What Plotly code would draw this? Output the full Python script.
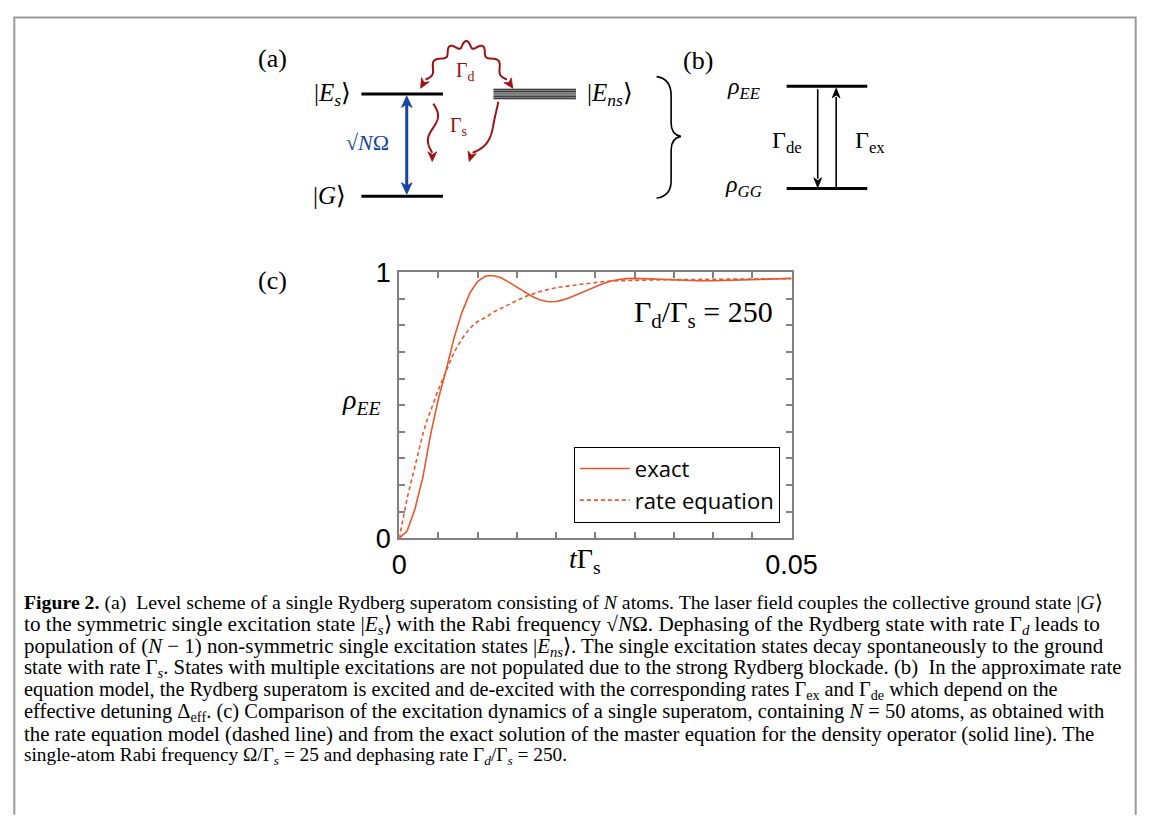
import numpy as np
import plotly.graph_objects as go

W, H = 1168, 821

# ---------------- data ----------------
t_exact = [0, 0.001, 0.002, 0.003, 0.004, 0.005, 0.006, 0.007, 0.008, 0.009,
           0.010, 0.011, 0.012, 0.013, 0.014, 0.015, 0.016, 0.017, 0.018, 0.019,
           0.020, 0.021, 0.022, 0.023, 0.024, 0.025, 0.026, 0.027, 0.028, 0.029,
           0.030, 0.032, 0.034, 0.036, 0.038, 0.040, 0.042, 0.044, 0.046, 0.048, 0.050]
rho_exact = [0, 0.027, 0.110, 0.228, 0.390, 0.525, 0.635, 0.755, 0.850, 0.922,
             0.966, 0.986, 0.988, 0.979, 0.962, 0.945, 0.925, 0.908, 0.896, 0.889,
             0.890, 0.897, 0.908, 0.921, 0.934, 0.947, 0.958, 0.967, 0.973, 0.976,
             0.977, 0.975, 0.972, 0.969, 0.968, 0.968, 0.969, 0.971, 0.973, 0.975, 0.977]

t_rate = [0, 0.0005, 0.001, 0.0015, 0.002, 0.0025, 0.003, 0.0035, 0.004, 0.005,
          0.006, 0.007, 0.008, 0.009, 0.010, 0.011, 0.012, 0.013, 0.014, 0.015,
          0.016, 0.018, 0.020, 0.022, 0.024, 0.026, 0.028, 0.030, 0.034, 0.038,
          0.042, 0.046, 0.050]
rho_rate = [0, 0.080, 0.150, 0.210, 0.270, 0.340, 0.390, 0.440, 0.480, 0.560,
            0.630, 0.700, 0.750, 0.790, 0.815, 0.830, 0.850, 0.865, 0.877, 0.895,
            0.908, 0.928, 0.942, 0.950, 0.958, 0.965, 0.968, 0.970, 0.972, 0.973,
            0.974, 0.975, 0.976]

series_names = ["exact", "rate equation"]

x_tick_vals = [0, 0.05]
x_tick_text = ["0", "0.05"]
x_minor_ticks = [0.005, 0.010, 0.015, 0.020, 0.025, 0.030, 0.035, 0.040, 0.045]
y_tick_vals = [0, 1]
y_tick_text = ["0", "1"]
y_minor_ticks = [0.1, 0.2, 0.3, 0.4, 0.5, 0.6, 0.7, 0.8, 0.9]

caption_lines = [
    "<b>Figure 2.</b> (a)\u00a0 Level scheme of a single Rydberg superatom consisting of <i>N</i> atoms. The laser field couples the collective ground state |<i>G</i>⟩",
    "to the symmetric single excitation state |<i>E<sub>s</sub></i>⟩ with the Rabi frequency √<i>N</i>Ω. Dephasing of the Rydberg state with rate Γ<sub><i>d</i></sub> leads to",
    "population of (<i>N</i> − 1) non-symmetric single excitation states |<i>E<sub>ns</sub></i>⟩. The single excitation states decay spontaneously to the ground",
    "state with rate Γ<sub><i>s</i></sub>. States with multiple excitations are not populated due to the strong Rydberg blockade. (b)\u00a0 In the approximate rate",
    "equation model, the Rydberg superatom is excited and de-excited with the corresponding rates Γ<sub>ex</sub> and Γ<sub>de</sub> which depend on the",
    "effective detuning Δ<sub>eff</sub>. (c) Comparison of the excitation dynamics of a single superatom, containing <i>N</i> = 50 atoms, as obtained with",
    "the rate equation model (dashed line) and from the exact solution of the master equation for the density operator (solid line). The",
    "single-atom Rabi frequency Ω/Γ<sub><i>s</i></sub> = 25 and dephasing rate Γ<sub><i>d</i></sub>/Γ<sub><i>s</i></sub> = 250.",
]

# ---------------- styling / layout helpers ----------------
LINE_COL = "#E8582B"
RED = "#9E1010"
BLUE = "#1545A0"
AXIS_COL = "#808080"
SERIF = "Liberation Serif"
SANS = "Liberation Sans"
CAP_Y = [610, 633, 655.5, 678, 701, 723.5, 746, 769]
CAP_SIZE = [19.8, 21.2, 20.9, 20.75, 20.3, 20.5, 20.8, 19.3]


def px(x):
    return x / W


def py(y):
    return 1 - y / H


def P(x, y):
    return f"{px(x):.5f},{py(y):.5f}"


def wavy_pts(p0, c, p1, amp, waves, n=160):
    s = np.linspace(0, 1, n)
    p0, c, p1 = map(np.array, (p0, c, p1))
    pts = ((1 - s) ** 2)[:, None] * p0 + (2 * (1 - s) * s)[:, None] * c + (s ** 2)[:, None] * p1
    d = (2 * (1 - s))[:, None] * (c - p0) + (2 * s)[:, None] * (p1 - c)
    d = d / np.linalg.norm(d, axis=1)[:, None]
    nrm = np.stack([-d[:, 1], d[:, 0]], axis=1)
    off = amp * np.sin(2 * np.pi * waves * s)
    return pts + nrm * off[:, None]


shapes = []
ann = []


def path_shape(pts, color, width):
    shapes.append(dict(type="path", xref="paper", yref="paper",
                       path="M " + " L ".join(P(x, y) for x, y in pts),
                       line=dict(color=color, width=width)))


def head(tip, direction, color, length=10, half=4.5, notch=3):
    u = np.array(direction, float)
    u = u / np.linalg.norm(u)
    n = np.array([-u[1], u[0]])
    t = np.array(tip, float)
    a = t - length * u + half * n
    b = t - (length - notch) * u
    c = t - length * u - half * n
    shapes.append(dict(type="path", xref="paper", yref="paper",
                       path=f"M {P(*t)} L {P(*a)} L {P(*b)} L {P(*c)} Z",
                       fillcolor=color, line=dict(color=color, width=0.8)))


def seg(x0, y0, x1, y1, width=3, color="black"):
    shapes.append(dict(type="line", xref="paper", yref="paper", x0=px(x0), x1=px(x1),
                       y0=py(y0), y1=py(y1), line=dict(color=color, width=width)))


def text(x, y, s, size, color="black", family=SERIF, xanchor="center"):
    ann.append(dict(x=px(x), y=py(y), xref="paper", yref="paper", text=s, showarrow=False,
                    xanchor=xanchor, yanchor="middle",
                    font=dict(family=family, size=size, color=color)))


fig = go.Figure()
fig.add_trace(go.Scatter(x=t_exact, y=rho_exact, mode="lines", name=series_names[0],
                         line=dict(color=LINE_COL, width=1.6)))
fig.add_trace(go.Scatter(x=t_rate, y=rho_rate, mode="lines", name=series_names[1],
                         line=dict(color=LINE_COL, width=1.6, dash="4px,3px")))

axis_common = dict(showgrid=False, zeroline=False, showline=True, linecolor=AXIS_COL,
                   linewidth=2, ticks="inside", ticklen=6, tickwidth=1.5,
                   tickcolor=AXIS_COL, mirror="ticks",
                   tickfont=dict(family=SANS, size=27, color="black"))

fig.update_layout(
    width=W, height=H,
    margin=dict(l=0, r=0, t=0, b=0),
    paper_bgcolor="white", plot_bgcolor="white",
    xaxis=dict(domain=[px(403), px(807)], range=[0, 0.05], tickmode="array",
               tickvals=x_tick_vals, ticktext=x_tick_text, ticklabelstandoff=1,
               minor=dict(tickvals=x_minor_ticks, ticks="inside", ticklen=6,
                          tickwidth=1.5, tickcolor=AXIS_COL),
               **axis_common),
    yaxis=dict(domain=[py(543), py(267)], range=[0, 1], tickmode="array",
               tickvals=y_tick_vals, ticktext=y_tick_text, ticklabelstandoff=1,
               minor=dict(tickvals=y_minor_ticks, ticks="inside", ticklen=6,
                          tickwidth=1.5, tickcolor=AXIS_COL),
               **axis_common),
    legend=dict(x=px(795), y=py(527), xanchor="right", yanchor="bottom",
                bordercolor="black", borderwidth=1, bgcolor="white",
                font=dict(family="Open Sans", size=22, color="black"),
                itemwidth=50, tracegroupgap=0),
    showlegend=True,
)

# outer frame
shapes.append(dict(type="path", xref="paper", yref="paper",
                   path=f"M {P(6.5, 830)} L {P(6.5, 2.5)} L {P(1161.5, 2.5)} L {P(1161.5, 830)}",
                   line=dict(color="#9a9a9a", width=2)))

# ---- panel (a) ----
text(272, 45, "(a)", 26)
seg(364, 82, 448, 82)
seg(364, 188, 448, 188)
for yy in [77, 79, 81, 83, 85, 87]:
    seg(500, yy, 585, yy, width=1.1)
text(334, 83, "|<i>E<sub>s</sub></i>⟩", 25)
text(331, 187, "|<i>G</i>⟩", 25)
text(620, 83, "|<i>E<sub>ns</sub></i>⟩", 25)
# collective Rabi coupling (double arrow)
seg(410.7, 92, 410.7, 178, width=3, color=BLUE)
head((410.7, 84), (0, -1), BLUE, length=12, half=5.5, notch=3.5)
head((410.7, 186), (0, 1), BLUE, length=12, half=5.5, notch=3.5)
text(370, 132, "√<i>N</i>Ω", 22, color=BLUE)
# dephasing wavy arrow
path_shape(wavy_pts((430, 67), (472, -6), (514, 67), 3.5, 5.5), RED, 2)
head((425, 76), (-5, 9), RED)
head((520, 76), (6, 9), RED)
text(471, 59, "Γ<sub>d</sub>", 20, color=RED)
# spontaneous decay wavy arrows
path_shape(wavy_pts((438, 92), (438, 117), (437, 143), -5, 1.0), RED, 2)
head((437, 152), (0, 1), RED)
path_shape(wavy_pts((505, 90), (505, 126), (478.5, 143), 2, 1.0), RED, 2)
head((475, 152), (-3, 9), RED)
text(464, 116, "Γ<sub>s</sub>", 20, color=RED)

# brace
shapes.append(dict(type="path", xref="paper", yref="paper",
                   path=(f"M {P(668, 64)} Q {P(683, 66)} {P(683, 84)} L {P(683, 112)} "
                         f"Q {P(683, 124)} {P(693, 126)} Q {P(683, 128)} {P(683, 140)} "
                         f"L {P(683, 172)} Q {P(683, 188)} {P(668, 190)}"),
                   line=dict(color="black", width=1.6)))

# ---- panel (b) ----
text(711, 47, "(b)", 26)
seg(802, 74, 885, 74)
seg(802, 180, 885, 180)
text(758, 76, "<i>ρ<sub>EE</sub></i>", 24)
text(758, 178, "<i>ρ<sub>GG</sub></i>", 24)
seg(834, 77, 834, 170, width=1.6)
head((834, 179), (0, 1), "black", length=10, half=4, notch=3)
seg(853, 180, 853, 85, width=1.6)
head((853, 76), (0, -1), "black", length=10, half=4, notch=3)
text(802, 132, "Γ<sub>de</sub>", 24)
text(888, 132, "Γ<sub>ex</sub>", 24)

# ---- panel (c) ----
text(272, 276, "(c)", 26)
text(364, 401, "<i>ρ<sub>EE</sub></i>", 28)
text(594, 566, "<i>t</i>Γ<sub>s</sub>", 28)
text(716, 310, "Γ<sub>d</sub>/Γ<sub>s</sub> = 250", 30)

# ---- caption ----
for yy, size, line in zip(CAP_Y, CAP_SIZE, caption_lines):
    text(14, yy, line, size, family=SERIF, xanchor="left")

fig.update_layout(shapes=shapes, annotations=ann)
fig.write_html("out.html")
